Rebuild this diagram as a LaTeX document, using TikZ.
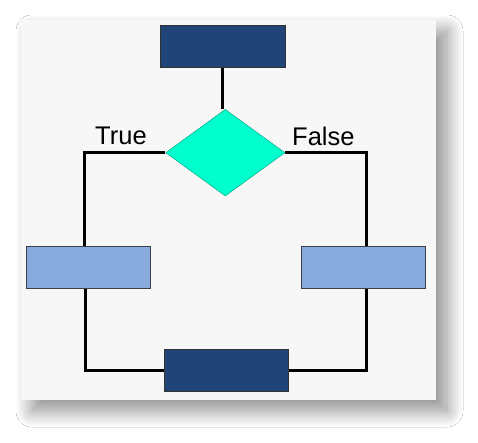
\documentclass[tikz,border=0pt]{standalone}
\usepackage{fontspec}
\setmainfont{Liberation Sans}
\usetikzlibrary{shapes.geometric,shadows.blur}
\definecolor{darkbox}{HTML}{214477}
\definecolor{lightbox}{HTML}{88AADE}
\definecolor{diafill}{HTML}{00FFCC}
\definecolor{panel}{HTML}{F7F7F7}
\definecolor{edge}{HTML}{3A3F4A}
\begin{document}
\begin{tikzpicture}[x=1pt,y=-1pt,
  box/.style={rectangle,draw=edge,line width=0.8pt,inner sep=0pt,minimum width=124.4pt,minimum height=42.5pt},
  darkrect/.style={box,fill=darkbox,draw=black!80},
  lightrect/.style={box,fill=lightbox},
  decision/.style={diamond,fill=diafill,draw=diafill!60!black,line width=0.4pt,inner sep=0pt,minimum width=119.3pt,minimum height=86.7pt},
  conn/.style={line width=3pt,black},
  lbl/.style={font=\fontsize{25.5}{25.5}\selectfont,anchor=base west,inner sep=0pt}]
\useasboundingbox (0,0) rectangle (478,442);
\fill[white] (0,0) rectangle (478,442);
\path[fill=panel,blur shadow={shadow xshift=11pt,shadow yshift=-11pt,shadow blur steps=24,shadow blur radius=16pt,shadow opacity=45}] (21,20) rectangle (436,400);
\node[darkrect] (top) at (222.7,46.3) {};
\node[decision] (dia) at (225.3,152.7) {};
\node[lightrect] (left) at (88.5,267.2) {};
\node[lightrect] (right) at (363.5,267.2) {};
\node[darkrect] (bot) at (226.5,370.3) {};
\draw[conn] ([xshift=-0.7pt]top.south) -- ([xshift=-0.7pt]top.south |- dia.north);
\draw[conn] (dia.west) -| ([xshift=-4.3pt]left.north);
\draw[conn] (dia.east) -| ([xshift=2.5pt]right.north);
\draw[conn] ([xshift=-3.2pt]left.south) |- (bot.west);
\draw[conn] ([xshift=3.2pt]right.south) |- (bot.east);
\node[lbl] (ltrue) at (95,144) {True};
\node[lbl] (lfalse) at (292,145.5) {False};
\end{tikzpicture}
\end{document}
